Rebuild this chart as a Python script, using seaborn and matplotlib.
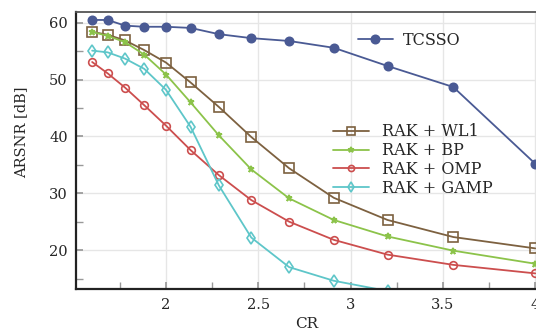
import seaborn as sns
import matplotlib.pyplot as plt
from matplotlib.ticker import MultipleLocator
import numpy as np

# CR values (32/M for M = 20..8)
cr = [1.6, 1.684, 1.778, 1.882, 2.0, 2.133, 2.286, 2.462, 2.667, 2.909, 3.2, 3.556, 4.0]

tcsso = [60.5, 60.5, 59.5, 59.3, 59.3, 59.1, 58.0, 57.3, 56.8, 55.6, 52.4, 48.7, 35.2]
wl1 = [58.4, 57.9, 56.9, 55.2, 53.0, 49.5, 45.2, 39.9, 34.4, 29.2, 25.3, 22.3, 20.3]
bp = [58.4, 57.7, 56.6, 54.4, 50.9, 46.0, 40.2, 34.2, 29.1, 25.3, 22.4, 19.9, 17.6]
omp = [53.1, 51.1, 48.6, 45.5, 41.9, 37.6, 33.2, 28.8, 25.0, 21.8, 19.2, 17.4, 15.9]
gamp = [55.1, 54.8, 53.7, 51.9, 48.2, 41.7, 31.4, 22.2, 17.0, 14.6, 12.8, np.nan, np.nan]

sns.set_theme(style="ticks")
plt.rcParams["font.family"] = ["DejaVu Serif"]
plt.rcParams["font.size"] = 10

fig = plt.figure(figsize=(5.36, 3.34), dpi=100)
ax = fig.add_axes([76 / 536, 1 - 289.3 / 334, 462 / 536, 277.3 / 334])

# Plot each series.
series = [
    ("TCSSO", tcsso, "#4a5a94", "o", 6, True),
    ("RAK + WL1", wl1, "#7d6140", "s", 7.5, False),
    ("RAK + BP", bp, "#8cc34a", "*", 5, True),
    ("RAK + OMP", omp, "#cc4e4e", "o", 5.5, False),
    ("RAK + GAMP", gamp, "#5ec6c9", "d", 6.5, False),
]
handles = {}
for label, vals, color, marker, ms, filled in series:
    sns.lineplot(x=cr, y=vals, ax=ax, color=color, marker=marker, markersize=ms,
                 markerfacecolor=color if filled else "none", markeredgecolor=color,
                 markeredgewidth=1.2, linewidth=1.3, label=label, legend=False)
    handles[label] = ax.lines[-1]

ax.set_xlim(1.5125, 4.015)
ax.set_ylim(13.1, 61.9)
ax.xaxis.set_major_locator(MultipleLocator(0.5))
ax.xaxis.set_minor_locator(MultipleLocator(0.25))
ax.yaxis.set_major_locator(MultipleLocator(10))
ax.yaxis.set_minor_locator(MultipleLocator(5))
ax.set_xticks([2, 2.5, 3, 3.5, 4])
ax.set_xticklabels(["2", "2.5", "3", "3.5", "4"])
ax.grid(True, which="major", color="#e6e6e6", linewidth=1.0)
ax.set_axisbelow(True)
ax.tick_params(which="both", direction="in", color="#999999", labelsize=10.5,
               pad=6, top=False, right=False)
ax.tick_params(which="major", length=5)
ax.tick_params(which="minor", length=5)

for s in ["left", "bottom"]:
    ax.spines[s].set_color("#222222")
    ax.spines[s].set_linewidth(1.6)
ax.spines["top"].set_color("#555555")
ax.spines["top"].set_linewidth(1.3)
ax.spines["right"].set_visible(False)

ax.set_xlabel("CR", fontsize=11, labelpad=4)
ax.set_ylabel("ARSNR [dB]", fontsize=10.5)
ax.yaxis.set_label_coords(-0.104, 0.567)

leg1 = ax.legend([handles["TCSSO"]], ["TCSSO"], loc="center left",
                 bbox_to_anchor=(0.610, 0.899), frameon=False, borderpad=0,
                 borderaxespad=0, handlelength=2.2, handletextpad=0.6,
                 fontsize=11.5)
ax.add_artist(leg1)
names = ["RAK + WL1", "RAK + BP", "RAK + OMP", "RAK + GAMP"]
ax.legend([handles[n] for n in names], names, loc="center left",
          bbox_to_anchor=(0.556, 0.466), frameon=False, borderpad=0,
          borderaxespad=0, handlelength=2.25, handletextpad=0.8,
          labelspacing=0.12, fontsize=11.5, markerscale=0.8)

fig.savefig("out.png", dpi=100)
